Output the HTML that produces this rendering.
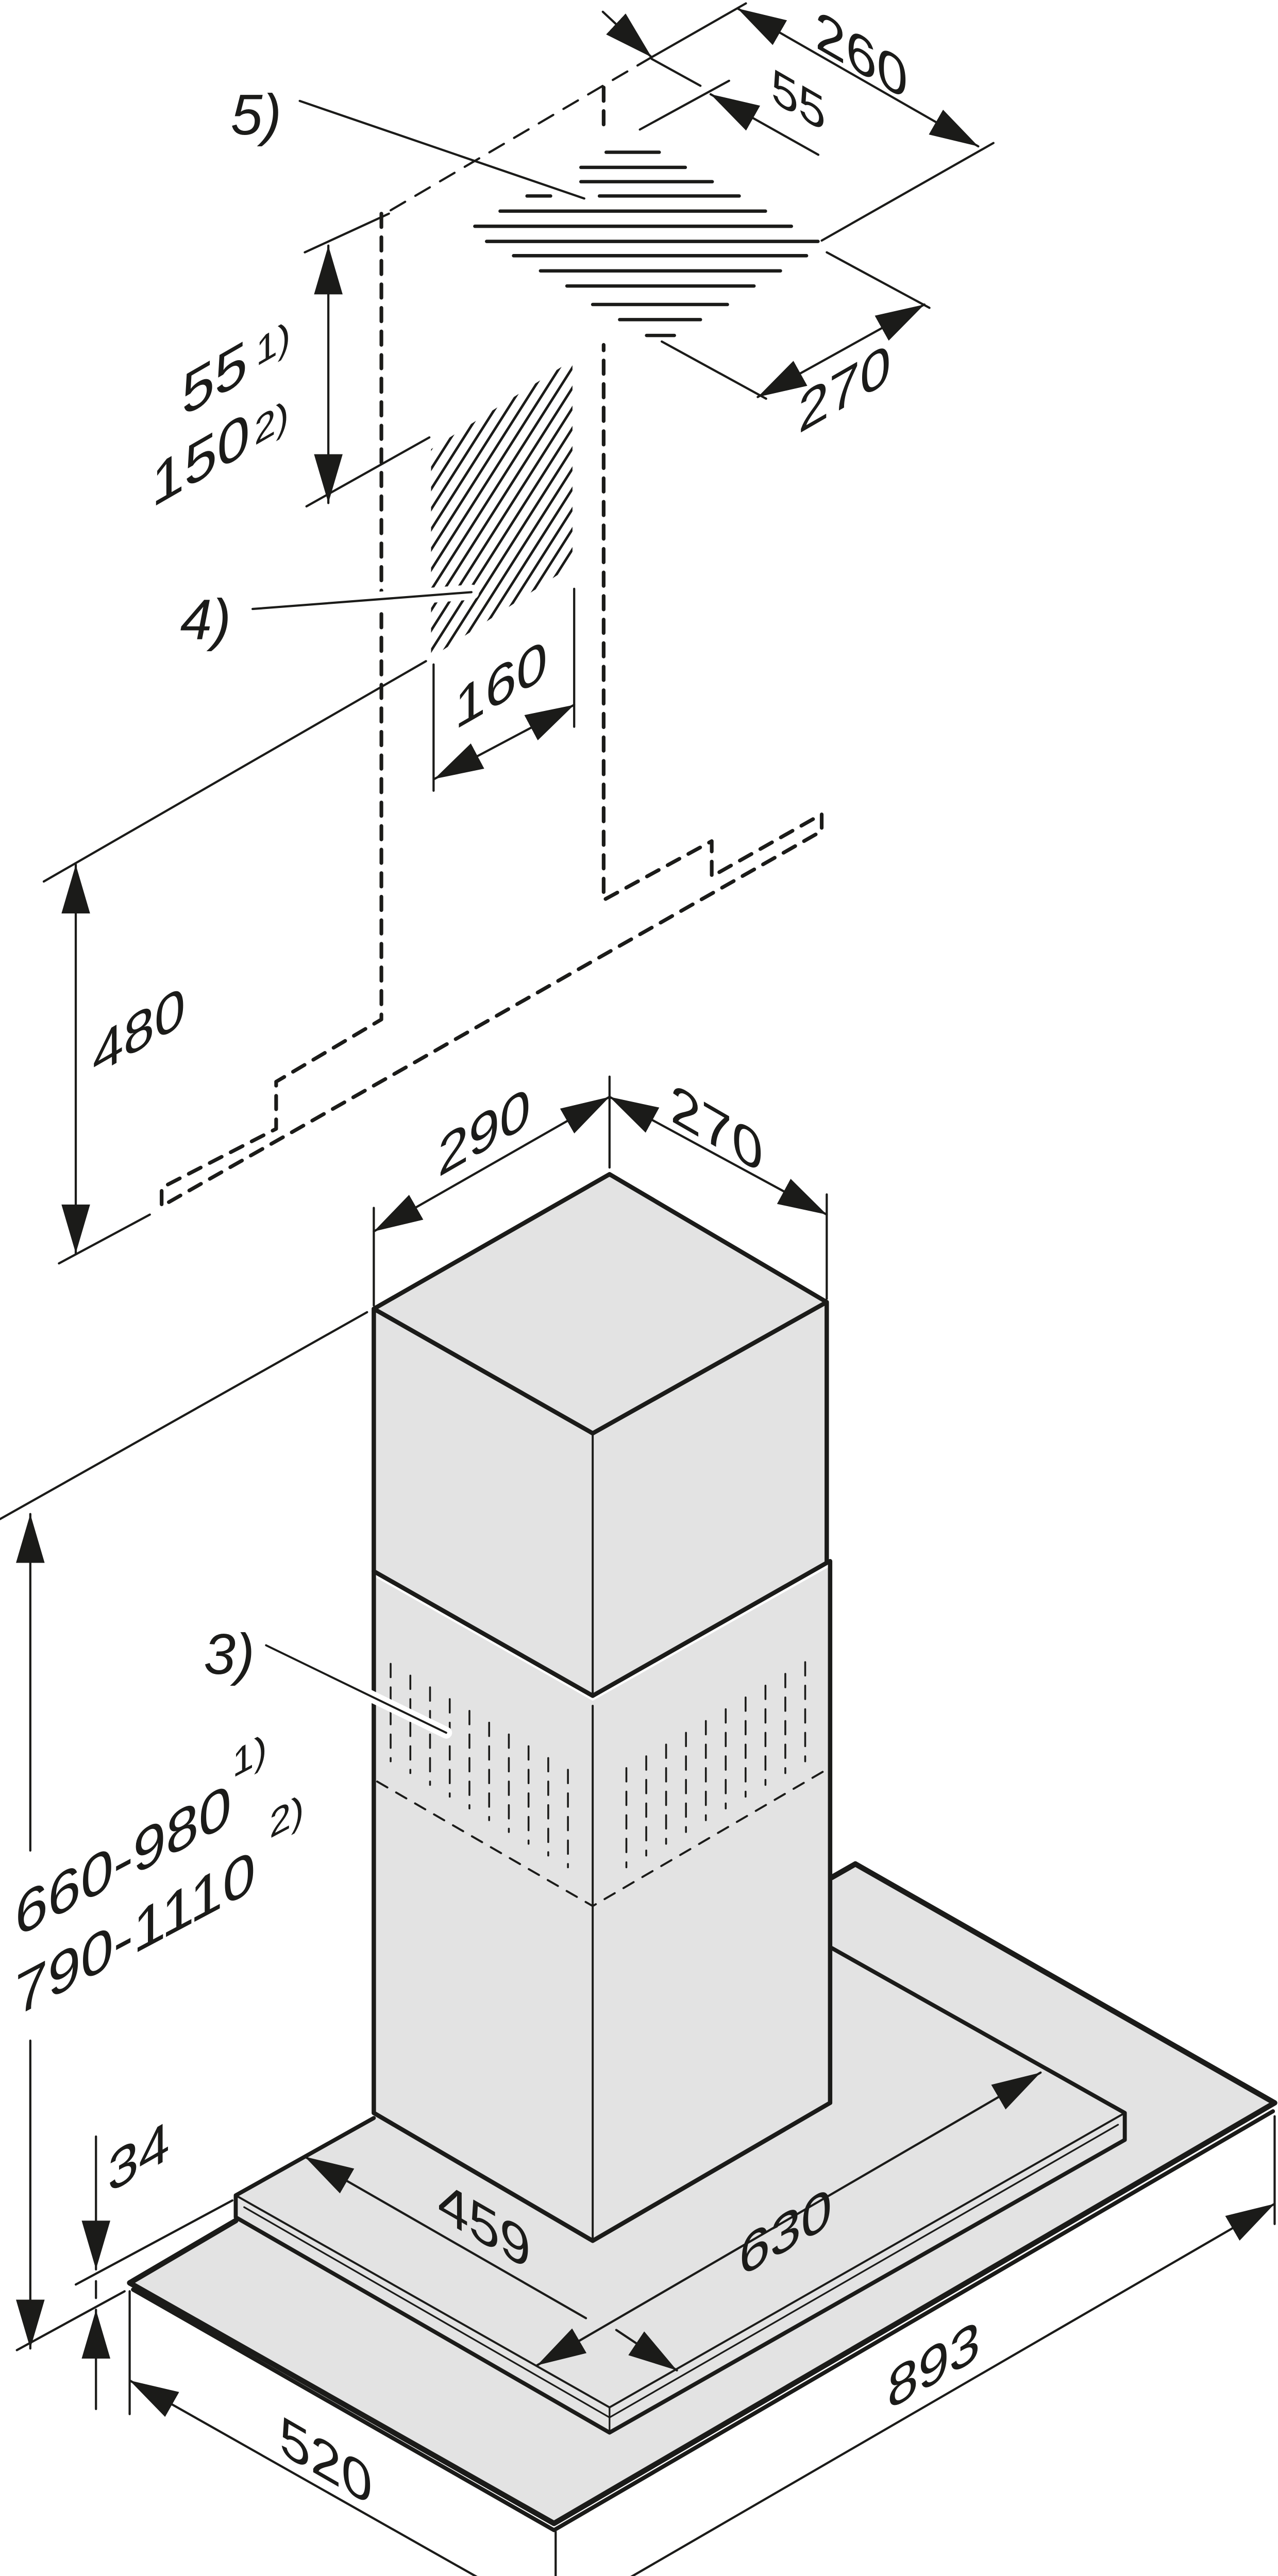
<!DOCTYPE html>
<html><head><meta charset="utf-8"><style>html,body{margin:0;padding:0;background:#fff;width:2480px;height:5120px;overflow:hidden}svg{display:block}</style></head>
<body>
<svg xmlns="http://www.w3.org/2000/svg" width="2480" height="5120" viewBox="0 0 759 1568" preserveAspectRatio="none">
<defs>
<marker id="a" markerUnits="userSpaceOnUse" markerWidth="29" markerHeight="17" refX="29" refY="8.5" orient="auto-start-reverse"><path d="M0,0 L29,8.5 L0,17 z" fill="#1b1b19"/></marker>
<clipPath id="hc"><polygon points="256,267 340,214 340,336 256,391"/></clipPath>
</defs>
<g fill="none" stroke="#1b1b19" stroke-linecap="round" stroke-linejoin="round">
<polygon points="77,1357 508,1108 757,1250 329,1500" fill="#e3e3e3" stroke="none"/>
<path d="M140,1320 L77,1357 L329,1500 L757,1250 L508,1108 L494,1116" stroke-width="3.2"/>
<path d="M79,1361 L329,1504 L756,1255" stroke-width="2.4"/>
<polygon points="140,1305 222,1259 494,1158 668,1256 668,1272 362,1446 140,1318" fill="#e3e3e3" stroke="none"/>
<path d="M222,1259 L140,1305 L140,1318 L362,1446 L668,1272 L668,1256 L494,1158" stroke-width="2.4"/>
<path d="M140,1305 L362,1431 L668,1256" stroke-width="1.2"/>
<path d="M145,1312 L362,1437 L664,1263" stroke-width="1"/>
<line x1="362" y1="1431" x2="362" y2="1446" stroke-width="1"/>
<polygon points="222,937 352,1011 493,931 493,1250 352,1332 222,1256" fill="#e3e3e3" stroke="none"/>
<path d="M222,934 V1256 L352,1332 L493,1250 V928" stroke-width="2.6"/>
<line x1="352" y1="1014" x2="352" y2="1332" stroke-width="1.2"/>
<polygon points="222,778 362,698 491,774 491,929 352,1008 222,934" fill="#e3e3e3" stroke="none"/>
<path d="M222,778 L362,698 L491,774 L352,852 Z M222,778 V934 L352,1008 L491,929 V774" stroke-width="2.6"/>
<line x1="352" y1="852" x2="352" y2="1006" stroke-width="1.2"/>
<g stroke-width="1.1" stroke-dasharray="8 6">
<line x1="232" y1="989" x2="232" y2="1047"/><line x1="243.7" y1="996" x2="243.7" y2="1054"/><line x1="255.4" y1="1003" x2="255.4" y2="1061"/><line x1="267.1" y1="1010" x2="267.1" y2="1068"/><line x1="278.8" y1="1017" x2="278.8" y2="1075"/><line x1="290.5" y1="1024" x2="290.5" y2="1082"/><line x1="302.2" y1="1031" x2="302.2" y2="1089"/><line x1="313.9" y1="1038" x2="313.9" y2="1096"/><line x1="325.6" y1="1045" x2="325.6" y2="1103"/><line x1="337.3" y1="1052" x2="337.3" y2="1110"/>
<line x1="372" y1="1051" x2="372" y2="1110"/><line x1="383.8" y1="1044" x2="383.8" y2="1103"/><line x1="395.6" y1="1037" x2="395.6" y2="1096"/><line x1="407.4" y1="1030" x2="407.4" y2="1089"/><line x1="419.2" y1="1023" x2="419.2" y2="1082"/><line x1="431" y1="1016" x2="431" y2="1075"/><line x1="442.8" y1="1009" x2="442.8" y2="1068"/><line x1="454.6" y1="1002" x2="454.6" y2="1061"/><line x1="466.4" y1="995" x2="466.4" y2="1054"/><line x1="478.2" y1="988" x2="478.2" y2="1047"/>
</g>
<path d="M224,1059 L352,1133 L489,1053" stroke-width="1.2" stroke-dasharray="7 6"/>
<line x1="158" y1="978" x2="265" y2="1030" stroke="#fff" stroke-width="7"/>
<line x1="158" y1="978" x2="265" y2="1030" stroke-width="1.2"/>
<path d="M226.5,127 V606 L164,643 V671 L96,706 V717 L488,494 V484 L422.7,521 V500 L358.5,535 V205" stroke-width="2.2" stroke-dasharray="8 6"/>
<line x1="358.5" y1="52" x2="358.5" y2="78" stroke-width="2.2" stroke-dasharray="8 6"/>
<line x1="232" y1="125" x2="387" y2="34" stroke-width="1.3" stroke-dasharray="10 7"/>
<g stroke-width="2">
<line x1="360" y1="90.5" x2="391.5" y2="90.5"/>
<line x1="345" y1="99.5" x2="407" y2="99.5"/>
<line x1="345" y1="108" x2="423" y2="108"/>
<line x1="313" y1="116.5" x2="327" y2="116.5"/><line x1="356" y1="116.5" x2="439" y2="116.5"/>
<line x1="297" y1="125.5" x2="454.6" y2="125.5"/>
<line x1="282" y1="134.5" x2="470" y2="134.5"/>
<line x1="289" y1="143.5" x2="485.8" y2="143.5"/>
<line x1="305" y1="152" x2="479" y2="152"/>
<line x1="321" y1="161" x2="463.5" y2="161"/>
<line x1="336.7" y1="170" x2="447.8" y2="170"/>
<line x1="352" y1="181" x2="432" y2="181"/>
<line x1="368" y1="190" x2="416" y2="190"/>
<line x1="384" y1="199.4" x2="400.5" y2="199.4"/>
</g>
<line x1="178" y1="60" x2="347" y2="118" stroke-width="1.3"/>
<g clip-path="url(#hc)" stroke-width="1.5">
<path d="M240,280 l120,-189 M240,292 l120,-189 M240,304 l120,-189 M240,316 l120,-189 M240,328 l120,-189 M240,340 l120,-189 M240,352 l120,-189 M240,364 l120,-189 M240,376 l120,-189 M240,388 l120,-189 M240,400 l120,-189 M240,412 l120,-189 M240,424 l120,-189 M240,436 l120,-189 M240,448 l120,-189 M240,460 l120,-189 M240,472 l120,-189 M240,484 l120,-189 M240,496 l120,-189 M240,508 l120,-189"/>
</g>
<line x1="150" y1="362" x2="280" y2="352" stroke="#fff" stroke-width="9"/>
<line x1="150" y1="362" x2="280" y2="352" stroke-width="1.3"/>
<g stroke-width="1.3">
<line x1="222" y1="718" x2="222" y2="776"/><line x1="362" y1="640" x2="362" y2="694"/><line x1="491" y1="710" x2="491" y2="772"/>
<line x1="222" y1="732" x2="362" y2="652" marker-start="url(#a)" marker-end="url(#a)"/>
<line x1="362" y1="652" x2="491" y2="722" marker-start="url(#a)" marker-end="url(#a)"/>
<line x1="0" y1="903" x2="218" y2="780"/>
<line x1="18" y1="1100" x2="18" y2="900" marker-end="url(#a)"/>
<line x1="18" y1="1213" x2="18" y2="1396" marker-end="url(#a)"/>
<line x1="10" y1="1397" x2="74" y2="1362"/>
<line x1="45" y1="1358" x2="138" y2="1308"/>
<line x1="57" y1="1270" x2="57" y2="1349" marker-end="url(#a)"/>
<line x1="57" y1="1356" x2="57" y2="1366"/>
<line x1="57" y1="1432" x2="57" y2="1373" marker-end="url(#a)"/>
<line x1="77" y1="1362" x2="77" y2="1435"/><line x1="330" y1="1505" x2="330" y2="1566"/><line x1="757" y1="1258" x2="757" y2="1322"/>
<line x1="77" y1="1415" x2="326" y2="1556" marker-start="url(#a)" marker-end="url(#a)"/>
<line x1="333" y1="1556" x2="757" y2="1310" marker-start="url(#a)" marker-end="url(#a)"/>
<line x1="181" y1="1282" x2="348" y2="1378" marker-start="url(#a)"/>
<line x1="366" y1="1385" x2="402" y2="1409" marker-end="url(#a)"/>
<line x1="319" y1="1406" x2="618" y2="1232" marker-start="url(#a)" marker-end="url(#a)"/>
<line x1="26" y1="524" x2="253" y2="393"/>
<line x1="35" y1="751" x2="89" y2="722"/>
<line x1="45" y1="514" x2="45" y2="745" marker-start="url(#a)" marker-end="url(#a)"/>
<line x1="257.5" y1="395" x2="257.5" y2="470"/><line x1="341" y1="350" x2="341" y2="432"/>
<line x1="258" y1="463" x2="341" y2="419" marker-start="url(#a)" marker-end="url(#a)"/>
<line x1="181" y1="150" x2="231" y2="127"/>
<line x1="182" y1="301" x2="255" y2="260"/>
<line x1="195" y1="146" x2="195" y2="299" marker-start="url(#a)" marker-end="url(#a)"/>
<line x1="387" y1="34" x2="443" y2="2"/>
<line x1="488" y1="143" x2="590" y2="85"/>
<line x1="438" y1="5" x2="581" y2="87" marker-start="url(#a)" marker-end="url(#a)"/>
<line x1="358" y1="7" x2="387" y2="34" marker-end="url(#a)"/>
<line x1="387" y1="35" x2="416" y2="51"/>
<line x1="486" y1="92" x2="422" y2="56" marker-end="url(#a)"/>
<line x1="380" y1="77" x2="433" y2="48"/>
<line x1="491" y1="150" x2="552" y2="183"/>
<line x1="393" y1="203" x2="455" y2="237"/>
<line x1="450" y1="236" x2="549" y2="181" marker-start="url(#a)" marker-end="url(#a)"/>
</g>
</g>
<g fill="#1b1b19" font-family="Liberation Sans, sans-serif" font-size="33">
<text x="137" y="80" font-style="italic" font-size="34">5)</text>
<text x="107" y="380" font-style="italic" font-size="34">4)</text>
<text x="121" y="995" font-style="italic" font-size="34">3)</text>
<g transform="translate(260,700) skewY(-30)"><text>290</text></g>
<g transform="translate(398,666) skewY(30)"><text>270</text></g>
<g transform="translate(55,640) skewY(-30)"><text>480</text></g>
<g transform="translate(270,434) skewY(-30)"><text>160</text></g>
<g transform="translate(108,248) skewY(-30)"><text font-size="35">55</text></g>
<g transform="translate(152,218) skewY(-30)"><text font-size="23">1)</text></g>
<g transform="translate(90,302) skewY(-30)"><text font-size="35">150</text></g>
<g transform="translate(151,265) skewY(-30)"><text font-size="23">2)</text></g>
<g transform="translate(484,28) skewY(30)"><text>260</text></g>
<g transform="translate(458,60) skewY(30)"><text font-size="29">55</text></g>
<g transform="translate(474,258) skewY(-30)"><text>270</text></g>
<g transform="translate(9,1152) skewY(-28)"><text font-size="35">660-980</text></g>
<g transform="translate(138,1057) skewY(-28)"><text font-size="23">1)</text></g>
<g transform="translate(9,1199) skewY(-28)"><text font-size="35">790-1110</text></g>
<g transform="translate(160,1093) skewY(-28)"><text font-size="23">2)</text></g>
<g transform="translate(64,1304) skewY(-30)"><text>34</text></g>
<g transform="translate(260,1318) skewY(30)"><text>459</text></g>
<g transform="translate(439,1354) skewY(-30)"><text>630</text></g>
<g transform="translate(527,1433) skewY(-30)"><text>893</text></g>
<g transform="translate(166,1458) skewY(30)"><text>520</text></g>
</g>
</svg>
</body></html>
